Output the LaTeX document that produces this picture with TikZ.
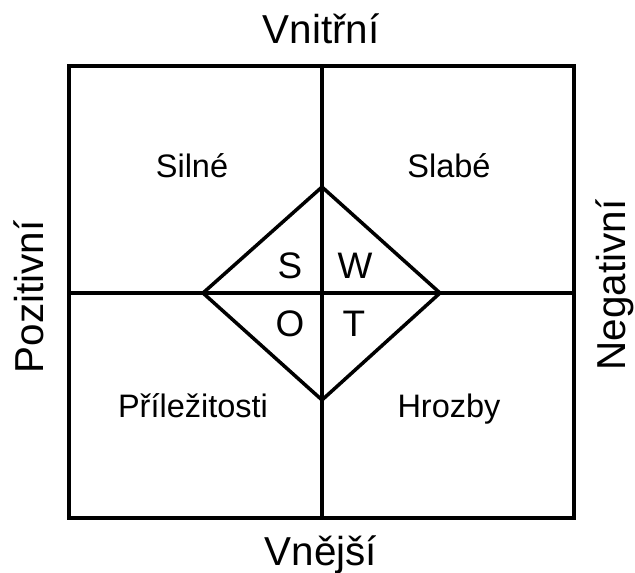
\documentclass[tikz,border=0pt]{standalone}
\usepackage{fontspec}
\setmainfont{Liberation Sans}
\usetikzlibrary{positioning, calc}

\begin{document}
\begin{tikzpicture}[
        x=0.02cm, y=-0.02cm,
        frame/.style={line width=2pt},
        side/.style={font=\fontsize{23}{26}\selectfont, anchor=base},
        quad/.style={font=\fontsize{18.5}{22}\selectfont, anchor=base},
        letter/.style={font=\fontsize{21}{24}\selectfont, anchor=base}
    ]
        \useasboundingbox (0,0) rectangle (635,572);

        % Corners
        \coordinate (tl) at (69,66);
        \coordinate (br) at (574,518);
        \coordinate (c) at (322,293);
        \coordinate (top) at (322,66);
        \coordinate (bot) at (322,518);
        \coordinate (lft) at (69,293);
        \coordinate (rgt) at (574,293);

        % Diamond
        \coordinate (dn) at (322,187);
        \coordinate (ds) at (322,400);
        \coordinate (dw) at (203,293);
        \coordinate (de) at (440,293);

        % Lines
        \draw[frame] (tl) rectangle (br);
        \draw[frame] (top) -- (bot);
        \draw[frame] (lft) -- (rgt);
        \draw[frame, line join=miter] (dn) -- (de) -- (ds) -- (dw) -- cycle;

        % Axis labels
        \node[side] (inner) at (321,43) {Vnitřní};
        \node[side] (outer) at (321,565) {Vnější};
        \node[side, rotate=90] (pos) at (43,297) {Pozitivní};
        \node[side, rotate=90] (neg) at (625,285) {Negativní};

        % Quadrants
        \node[quad] (strong) at (192,177) {Silné};
        \node[quad] (weak) at (449,177) {Slabé};
        \node[quad] (opp) at (193,417) {Příležitosti};
        \node[quad] (threat) at (449,417) {Hrozby};

        % Letters
        \node[letter] (ls) at (290,278) {S};
        \node[letter] (lw) at (355,278) {W};
        \node[letter] (lo) at (290,336) {O};
        \node[letter] (lt) at (354,336) {T};
    \end{tikzpicture}
\end{document}
